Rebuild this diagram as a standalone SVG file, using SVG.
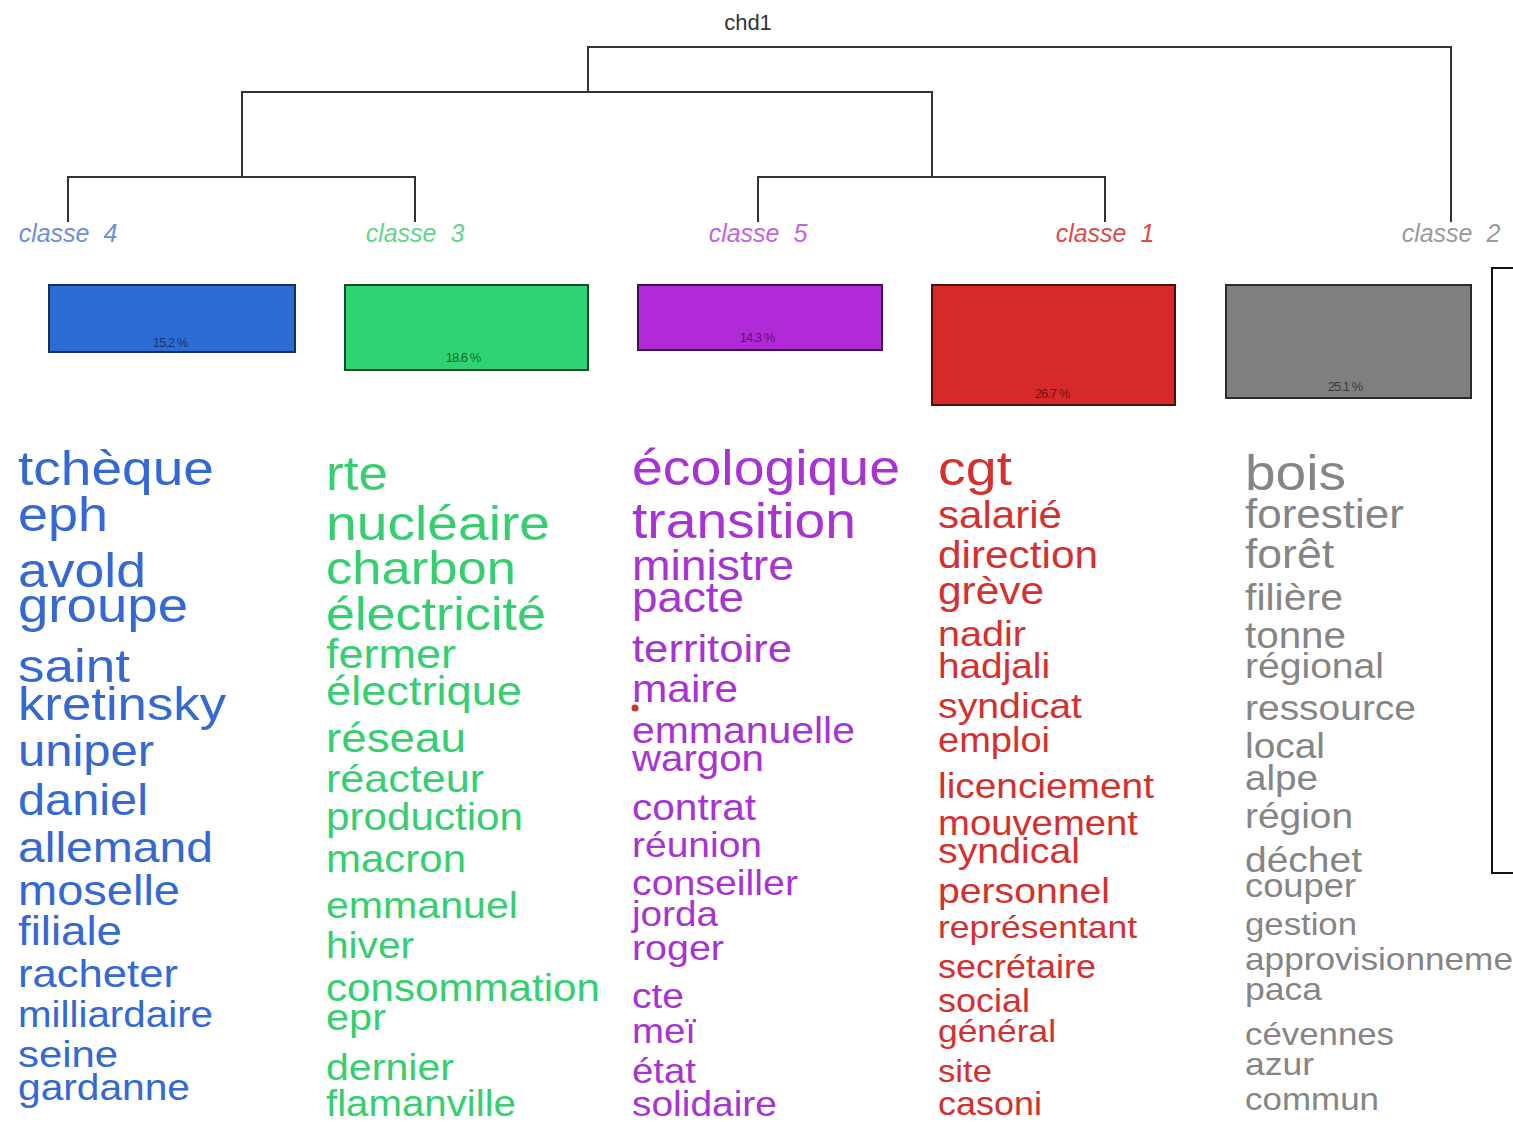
<svg xmlns="http://www.w3.org/2000/svg" width="1513" height="1122" viewBox="0 0 1513 1122">
<style>
text{font-family:"Liberation Sans",Arial,sans-serif}
.lbl{font-style:italic;font-size:25px;text-anchor:middle;white-space:pre}
.pct{font-size:13px;text-anchor:middle;letter-spacing:-1px;fill-opacity:0.75}
.bar{stroke-width:2}
.b{fill:#3468d2}.g{fill:#35cf6f}.p{fill:#a733d3}.r{fill:#d3302f}.k{fill:#858585}
.dl{fill:none;stroke:#333;stroke-width:2}
</style>
<rect width="1513" height="1122" fill="#fff"/>
<text x="748" y="30" font-size="22" text-anchor="middle" fill="#333">chd1</text>
<g id="connectors" class="dl">
<path d="M588 92V47H1451V222"/>
<path d="M242 177V92H932V177"/>
<path d="M68 222V177H415V222"/>
<path d="M758 222V177H1105V222"/>
</g>
<g id="box"><path d="M1513 268H1492V873H1513" fill="none" stroke="#111" stroke-width="2"/></g>

<g id="classe4">
<text class="lbl" x="68" y="242" fill="#6d8fd8">classe  4</text>
<rect class="bar" x="49" y="285" width="246" height="67" fill="#2b6dd4" stroke="#1a2f5a"/>
<text class="pct" x="170" y="347" fill="#0e1f4a">15.2 %</text>
<g class="b">
<text x="18" y="485" font-size="49" textLength="196" lengthAdjust="spacingAndGlyphs">tchèque</text>
<text x="18" y="531" font-size="49" textLength="90" lengthAdjust="spacingAndGlyphs">eph</text>
<text x="18" y="587" font-size="48" textLength="128" lengthAdjust="spacingAndGlyphs">avold</text>
<text x="18" y="622" font-size="48" textLength="170" lengthAdjust="spacingAndGlyphs">groupe</text>
<text x="18" y="682" font-size="47" textLength="112" lengthAdjust="spacingAndGlyphs">saint</text>
<text x="18" y="720" font-size="47" textLength="208" lengthAdjust="spacingAndGlyphs">kretinsky</text>
<text x="18" y="766" font-size="44" textLength="136" lengthAdjust="spacingAndGlyphs">uniper</text>
<text x="18" y="815" font-size="44" textLength="130" lengthAdjust="spacingAndGlyphs">daniel</text>
<text x="18" y="862" font-size="43" textLength="195" lengthAdjust="spacingAndGlyphs">allemand</text>
<text x="18" y="905" font-size="42" textLength="162" lengthAdjust="spacingAndGlyphs">moselle</text>
<text x="18" y="945" font-size="40" textLength="104" lengthAdjust="spacingAndGlyphs">filiale</text>
<text x="18" y="987" font-size="39" textLength="160" lengthAdjust="spacingAndGlyphs">racheter</text>
<text x="18" y="1027" font-size="36" textLength="195" lengthAdjust="spacingAndGlyphs">milliardaire</text>
<text x="18" y="1067" font-size="37" textLength="100" lengthAdjust="spacingAndGlyphs">seine</text>
<text x="18" y="1100" font-size="37" textLength="172" lengthAdjust="spacingAndGlyphs">gardanne</text>
</g>
</g>

<g id="classe3">
<text class="lbl" x="415" y="242" fill="#5fd58e">classe  3</text>
<rect class="bar" x="345" y="285" width="243" height="85" fill="#2fd472" stroke="#1a4a2c"/>
<text class="pct" x="463" y="362" fill="#0c3a1c">18.6 %</text>
<g class="g">
<text x="326" y="490" font-size="48" textLength="62" lengthAdjust="spacingAndGlyphs">rte</text>
<text x="326" y="540" font-size="49" textLength="224" lengthAdjust="spacingAndGlyphs">nucléaire</text>
<text x="326" y="584" font-size="47" textLength="190" lengthAdjust="spacingAndGlyphs">charbon</text>
<text x="326" y="630" font-size="47" textLength="220" lengthAdjust="spacingAndGlyphs">électricité</text>
<text x="326" y="668" font-size="41" textLength="130" lengthAdjust="spacingAndGlyphs">fermer</text>
<text x="326" y="705" font-size="41" textLength="196" lengthAdjust="spacingAndGlyphs">électrique</text>
<text x="326" y="752" font-size="41" textLength="140" lengthAdjust="spacingAndGlyphs">réseau</text>
<text x="326" y="792" font-size="39" textLength="158" lengthAdjust="spacingAndGlyphs">réacteur</text>
<text x="326" y="830" font-size="38" textLength="197" lengthAdjust="spacingAndGlyphs">production</text>
<text x="326" y="872" font-size="38" textLength="140" lengthAdjust="spacingAndGlyphs">macron</text>
<text x="326" y="918" font-size="37" textLength="192" lengthAdjust="spacingAndGlyphs">emmanuel</text>
<text x="326" y="958" font-size="37" textLength="88" lengthAdjust="spacingAndGlyphs">hiver</text>
<text x="326" y="1001" font-size="38" textLength="274" lengthAdjust="spacingAndGlyphs">consommation</text>
<text x="326" y="1030" font-size="37" textLength="60" lengthAdjust="spacingAndGlyphs">epr</text>
<text x="326" y="1080" font-size="37" textLength="128" lengthAdjust="spacingAndGlyphs">dernier</text>
<text x="326" y="1116" font-size="36" textLength="190" lengthAdjust="spacingAndGlyphs">flamanville</text>
</g>
</g>

<g id="classe5">
<text class="lbl" x="758" y="242" fill="#c264e0">classe  5</text>
<rect class="bar" x="638" y="285" width="244" height="65" fill="#b12ad8" stroke="#3e1250"/>
<text class="pct" x="757" y="342" fill="#3a0c4a">14.3 %</text>
<g class="p">
<text x="632" y="485" font-size="50" textLength="268" lengthAdjust="spacingAndGlyphs">écologique</text>
<text x="632" y="538" font-size="50" textLength="224" lengthAdjust="spacingAndGlyphs">transition</text>
<text x="632" y="580" font-size="42" textLength="162" lengthAdjust="spacingAndGlyphs">ministre</text>
<text x="632" y="612" font-size="42" textLength="112" lengthAdjust="spacingAndGlyphs">pacte</text>
<text x="632" y="662" font-size="39" textLength="160" lengthAdjust="spacingAndGlyphs">territoire</text>
<text x="632" y="702" font-size="38" textLength="106" lengthAdjust="spacingAndGlyphs">maire</text>
<text x="632" y="743" font-size="37" textLength="223" lengthAdjust="spacingAndGlyphs">emmanuelle</text>
<text x="632" y="771" font-size="36" textLength="132" lengthAdjust="spacingAndGlyphs">wargon</text>
<text x="632" y="820" font-size="36" textLength="124" lengthAdjust="spacingAndGlyphs">contrat</text>
<text x="632" y="857" font-size="35" textLength="130" lengthAdjust="spacingAndGlyphs">réunion</text>
<text x="632" y="895" font-size="35" textLength="166" lengthAdjust="spacingAndGlyphs">conseiller</text>
<text x="632" y="926" font-size="35" textLength="86" lengthAdjust="spacingAndGlyphs">jorda</text>
<text x="632" y="960" font-size="35" textLength="92" lengthAdjust="spacingAndGlyphs">roger</text>
<text x="632" y="1008" font-size="35" textLength="52" lengthAdjust="spacingAndGlyphs">cte</text>
<text x="632" y="1043" font-size="35" textLength="64" lengthAdjust="spacingAndGlyphs">meï</text>
<text x="632" y="1083" font-size="35" textLength="64" lengthAdjust="spacingAndGlyphs">état</text>
<text x="632" y="1116" font-size="35" textLength="145" lengthAdjust="spacingAndGlyphs">solidaire</text>
</g>
<circle cx="635" cy="708" r="3.5" fill="#c0392b"/>
</g>

<g id="classe1">
<text class="lbl" x="1105" y="242" fill="#e04a4a">classe  1</text>
<rect class="bar" x="932" y="285" width="243" height="120" fill="#d62a2a" stroke="#4a1010"/>
<text class="pct" x="1052" y="398" fill="#4a0a0a">26.7 %</text>
<g class="r">
<text x="938" y="485" font-size="48" textLength="74" lengthAdjust="spacingAndGlyphs">cgt</text>
<text x="938" y="528" font-size="38" textLength="124" lengthAdjust="spacingAndGlyphs">salarié</text>
<text x="938" y="568" font-size="38" textLength="160" lengthAdjust="spacingAndGlyphs">direction</text>
<text x="938" y="604" font-size="38" textLength="106" lengthAdjust="spacingAndGlyphs">grève</text>
<text x="938" y="646" font-size="35" textLength="88" lengthAdjust="spacingAndGlyphs">nadir</text>
<text x="938" y="678" font-size="35" textLength="112" lengthAdjust="spacingAndGlyphs">hadjali</text>
<text x="938" y="718" font-size="35" textLength="144" lengthAdjust="spacingAndGlyphs">syndicat</text>
<text x="938" y="752" font-size="35" textLength="112" lengthAdjust="spacingAndGlyphs">emploi</text>
<text x="938" y="798" font-size="35" textLength="216" lengthAdjust="spacingAndGlyphs">licenciement</text>
<text x="938" y="835" font-size="35" textLength="200" lengthAdjust="spacingAndGlyphs">mouvement</text>
<text x="938" y="863" font-size="35" textLength="142" lengthAdjust="spacingAndGlyphs">syndical</text>
<text x="938" y="903" font-size="35" textLength="172" lengthAdjust="spacingAndGlyphs">personnel</text>
<text x="938" y="938" font-size="32" textLength="199" lengthAdjust="spacingAndGlyphs">représentant</text>
<text x="938" y="978" font-size="33" textLength="158" lengthAdjust="spacingAndGlyphs">secrétaire</text>
<text x="938" y="1012" font-size="33" textLength="92" lengthAdjust="spacingAndGlyphs">social</text>
<text x="938" y="1042" font-size="32" textLength="118" lengthAdjust="spacingAndGlyphs">général</text>
<text x="938" y="1082" font-size="32" textLength="54" lengthAdjust="spacingAndGlyphs">site</text>
<text x="938" y="1115" font-size="33" textLength="104" lengthAdjust="spacingAndGlyphs">casoni</text>
</g>
</g>

<g id="classe2">
<text class="lbl" x="1451" y="242" fill="#9a9a9a">classe  2</text>
<rect class="bar" x="1226" y="285" width="245" height="113" fill="#7f7f7f" stroke="#2a2a2a"/>
<text class="pct" x="1345" y="391" fill="#222">25.1 %</text>
<g class="k">
<text x="1245" y="490" font-size="50" textLength="101" lengthAdjust="spacingAndGlyphs">bois</text>
<text x="1245" y="528" font-size="40" textLength="159" lengthAdjust="spacingAndGlyphs">forestier</text>
<text x="1245" y="568" font-size="40" textLength="89" lengthAdjust="spacingAndGlyphs">forêt</text>
<text x="1245" y="610" font-size="37" textLength="98" lengthAdjust="spacingAndGlyphs">filière</text>
<text x="1245" y="648" font-size="36" textLength="101" lengthAdjust="spacingAndGlyphs">tonne</text>
<text x="1245" y="678" font-size="35" textLength="139" lengthAdjust="spacingAndGlyphs">régional</text>
<text x="1245" y="720" font-size="35" textLength="171" lengthAdjust="spacingAndGlyphs">ressource</text>
<text x="1245" y="758" font-size="35" textLength="80" lengthAdjust="spacingAndGlyphs">local</text>
<text x="1245" y="790" font-size="35" textLength="73" lengthAdjust="spacingAndGlyphs">alpe</text>
<text x="1245" y="828" font-size="35" textLength="108" lengthAdjust="spacingAndGlyphs">région</text>
<text x="1245" y="872" font-size="35" textLength="117" lengthAdjust="spacingAndGlyphs">déchet</text>
<text x="1245" y="897" font-size="33" textLength="111" lengthAdjust="spacingAndGlyphs">couper</text>
<text x="1245" y="935" font-size="32" textLength="112" lengthAdjust="spacingAndGlyphs">gestion</text>
<text x="1245" y="970" font-size="32" textLength="268" lengthAdjust="spacingAndGlyphs">approvisionneme</text>
<text x="1245" y="1000" font-size="32" textLength="77" lengthAdjust="spacingAndGlyphs">paca</text>
<text x="1245" y="1045" font-size="32" textLength="149" lengthAdjust="spacingAndGlyphs">cévennes</text>
<text x="1245" y="1075" font-size="32" textLength="69" lengthAdjust="spacingAndGlyphs">azur</text>
<text x="1245" y="1110" font-size="32" textLength="134" lengthAdjust="spacingAndGlyphs">commun</text>
</g>
</g>
</svg>
